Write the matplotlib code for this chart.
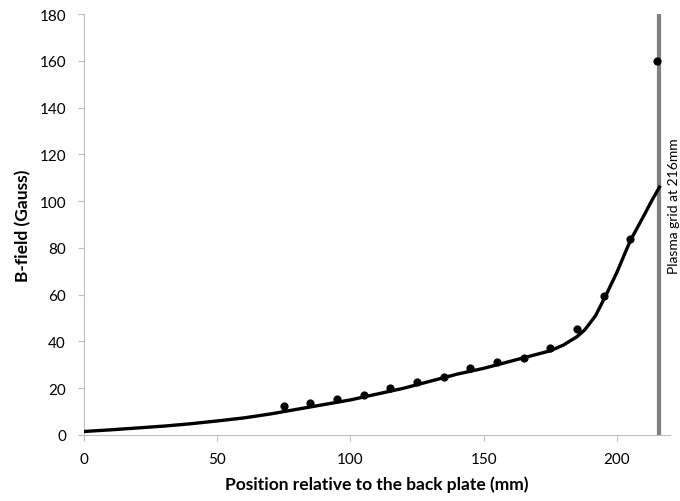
#!/usr/bin/env python3
"""B-field along the source axis: measured points, model curve and plasma grid position."""

import matplotlib.pyplot as plt

# measured B-field (Gauss) vs position (mm)
meas_x = [75, 85, 95, 105, 115, 125, 135, 145, 155, 165, 175, 185, 195, 205, 215]
meas_b = [12.5, 13.5, 15.5, 17, 20, 22.5, 25, 28.5, 31, 33, 37, 45.5, 59.5, 84, 160]

# model curve
model_x = [0, 10, 20, 30, 40, 50, 60, 70, 80, 90, 100, 110, 120, 130, 140, 150,
           160, 170, 175, 180, 185, 188, 192, 196, 200, 205, 210, 213, 216]
model_b = [1.5, 2.2, 3.0, 3.8, 4.8, 6.0, 7.3, 9.0, 11.0, 13.0, 15.0, 17.5, 20.0,
           23.0, 26.0, 28.5, 31.5, 34.5, 36.0, 38.5, 42.0, 45.0, 51.0, 60.0,
           69.5, 83.0, 93.5, 100.0, 106.0]

grid_pos = 216
x_ticks = [0, 50, 100, 150, 200]
y_ticks = list(range(0, 181, 20))

plt.rcParams["font.family"] = ["Lato", "DejaVu Sans"]

fig = plt.figure(figsize=(6.8, 5.02), dpi=100)
ax = fig.add_axes([0.1235, 0.1315, 0.862, 0.8385])

ax.plot(model_x, model_b, color="black", linewidth=2.4, zorder=3)
ax.scatter(meas_x, meas_b, s=24, color="black", zorder=4)
ax.axvline(grid_pos, color="#808080", linewidth=3, zorder=2)

ax.set_xlim(0, 220)
ax.set_ylim(0, 180)
ax.set_xticks(x_ticks)
ax.set_yticks(y_ticks)

for side in ("top", "right"):
    ax.spines[side].set_visible(False)
for side in ("left", "bottom"):
    ax.spines[side].set_color("#bfbfbf")
ax.tick_params(colors="#bfbfbf", labelcolor="black", labelsize=11, length=4, direction="out")
ax.tick_params(axis="x", pad=8)
ax.tick_params(axis="y", pad=9)

ax.set_xlabel("Position relative to the back plate (mm)", fontsize=12.5, fontweight="bold", labelpad=7)
ax.set_ylabel("B-field (Gauss)", fontsize=12.5, fontweight="bold", labelpad=6)

fig.text(0.9905, 0.59, "Plasma grid at 216mm", rotation=90, ha="center", va="center", fontsize=10)

fig.savefig("out.png", dpi=100)
